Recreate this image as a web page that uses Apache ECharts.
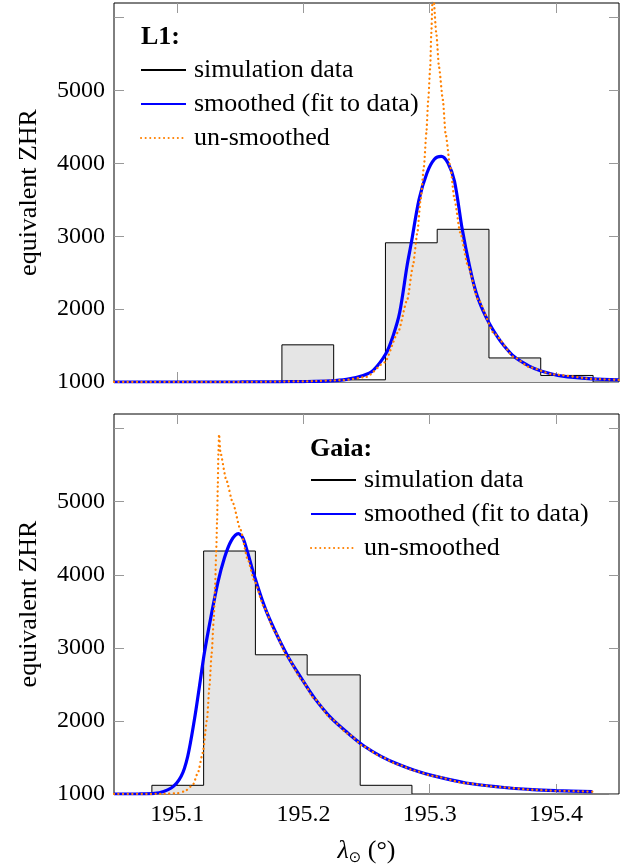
<!DOCTYPE html>
<html>
<head>
<meta charset="utf-8">
<title>L1 / Gaia ZHR</title>
<style>
html, body { margin: 0; padding: 0; background: #fff; }
#main { width: 627px; height: 867px; }
</style>
</head>
<body>
<div id="main"></div>
<script src="https://cdn.jsdelivr.net/npm/echarts@6.0.0/dist/echarts.min.js"></script>
<script>
// tick positions / labels
var xTicks = [195.1, 195.2, 195.3, 195.4];
var yTicks = [1000, 2000, 3000, 4000, 5000, 6000];
var yLabels = [1000, 2000, 3000, 4000, 5000];
var legendNames = ['simulation data', 'smoothed (fit to data)', 'un-smoothed'];

// L1: histogram (bin edges + heights)
var l1Edges = [195.183, 195.224, 195.265, 195.306, 195.347, 195.388, 195.4295];
var l1Hist = [1510, 1030, 2910, 3095, 1330, 1090];

// L1: smoothed profile [lambda, ZHR]
var l1Smooth = [
  [195.05, 1000], [195.10, 1000], [195.15, 1001], [195.18, 1003], [195.20, 1006],
  [195.221, 1015], [195.2342, 1036], [195.2474, 1090], [195.2553, 1160],
  [195.2653, 1387], [195.2711, 1636], [195.2763, 1955], [195.2821, 2592],
  [195.2855, 2911], [195.2916, 3503], [195.2979, 3868], [195.3039, 4059],
  [195.3092, 4096], [195.3145, 4005], [195.3197, 3754], [195.3258, 3098],
  [195.3316, 2592], [195.3368, 2228], [195.3421, 1985], [195.3474, 1800],
  [195.3526, 1650], [195.3579, 1520], [195.3671, 1345], [195.3789, 1218],
  [195.3882, 1152], [195.4053, 1080], [195.4289, 1043], [195.45, 1030]
];

// L1: un-smoothed profile
var l1Raw = [
  [195.05, 1000], [195.15, 1001], [195.20, 1008], [195.2316, 1025], [195.25, 1070],
  [195.2645, 1270], [195.275, 1682], [195.2824, 2137], [195.2868, 2597],
  [195.2903, 3052], [195.2929, 3508], [195.2955, 3959], [195.2974, 4415],
  [195.2989, 4870], [195.3005, 5326], [195.3013, 5781], [195.3026, 6400],
  [195.3053, 5781], [195.3074, 5326], [195.3105, 4870], [195.3126, 4415],
  [195.3163, 3959], [195.3197, 3508], [195.3242, 3052], [195.3303, 2597],
  [195.3382, 2137], [195.3513, 1660], [195.3671, 1340], [195.3789, 1205],
  [195.3974, 1105], [195.4316, 1040], [195.45, 1028]
];

// Gaia: histogram
var gaiaEdges = [195.080, 195.121, 195.162, 195.203, 195.245, 195.286];
var gaiaHist = [1119, 4325, 2905, 2630, 1119];

// Gaia: smoothed profile
var gaiaSmooth = [
  [195.05, 1000], [195.07, 1001], [195.0821, 1008], [195.0953, 1082],
  [195.1032, 1242], [195.1084, 1516], [195.1137, 2018], [195.1177, 2475],
  [195.1216, 2932], [195.1269, 3434], [195.1322, 3890], [195.1375, 4233],
  [195.1427, 4461], [195.1485, 4562], [195.152, 4507], [195.1559, 4301],
  [195.1612, 3982], [195.1691, 3571], [195.177, 3251], [195.1876, 2886],
  [195.1982, 2589], [195.2087, 2315], [195.2219, 2041], [195.2351, 1836],
  [195.2483, 1653], [195.2615, 1516], [195.2747, 1410], [195.2879, 1325],
  [195.3024, 1251], [195.3288, 1151], [195.3551, 1096], [195.3814, 1059],
  [195.40, 1045], [195.4289, 1032]
];

// Gaia: un-smoothed profile
var gaiaRaw = [
  [195.05, 1000], [195.09, 1002], [195.1005, 1012], [195.1058, 1035],
  [195.1124, 1120], [195.1164, 1288], [195.1203, 1562], [195.1237, 2018],
  [195.1256, 2475], [195.1274, 2932], [195.129, 3388], [195.1301, 3845],
  [195.1309, 4301], [195.1317, 4758], [195.1322, 5215], [195.1327, 5671],
  [195.1332, 5922], [195.1343, 5671], [195.1388, 5306], [195.1441, 4986],
  [195.1501, 4621], [195.1559, 4210], [195.1612, 3913], [195.1691, 3548],
  [195.177, 3235], [195.1876, 2870], [195.1982, 2575], [195.2087, 2305],
  [195.2219, 2032], [195.2351, 1828], [195.2483, 1646], [195.2615, 1510],
  [195.2747, 1405], [195.2879, 1320], [195.3024, 1247], [195.3288, 1148],
  [195.3551, 1094], [195.3814, 1058], [195.40, 1044], [195.4289, 1031]
];

var X_MIN = 195.05, X_MAX = 195.45, Y_MIN = 1000, Y_MAX = 6200;
var SERIF = 'Liberation Serif';

// step outline for histogram: up from baseline, bins, back down
function histData(edges, vals) {
  var d = [[edges[0], Y_MIN]];
  for (var i = 0; i < vals.length; i++) d.push([edges[i], vals[i]]);
  d.push([edges[edges.length - 1], Y_MIN]);
  return d;
}

function xAx(grid, pos, labels) {
  var a = {
    type: 'value', gridIndex: grid, position: pos, min: X_MIN, max: X_MAX,
    axisLine: { show: false },
    splitLine: { show: false },
    axisTick: { inside: true, length: 10, customValues: xTicks, lineStyle: { color: '#999', width: 1 } },
    axisLabel: { show: false }
  };
  if (labels) {
    a.axisLabel = {
      show: true, customValues: xTicks, margin: 9, color: '#000',
      fontFamily: SERIF, fontSize: 24,
      formatter: function (v) { return v.toFixed(1); }
    };
    a.name = '{l|λ}{s|⊙} (°)';
    a.nameLocation = 'middle';
    a.nameGap = 42;
    a.nameTextStyle = {
      color: '#000', fontFamily: SERIF, fontSize: 26,
      rich: {
        l: { fontFamily: SERIF, fontStyle: 'italic', fontSize: 26, color: '#000' },
        s: { fontFamily: 'DejaVu Sans', fontSize: 15, color: '#000', padding: [14, 0, 0, 0], height: 16 }
      }
    };
  }
  return a;
}

function yAx(grid, pos, labels) {
  var a = {
    type: 'value', gridIndex: grid, position: pos, min: Y_MIN, max: Y_MAX,
    axisLine: { show: false },
    splitLine: { show: false },
    axisTick: { inside: true, length: 10, customValues: yTicks, lineStyle: { color: '#999', width: 1 } },
    axisLabel: { show: false }
  };
  if (labels) {
    a.axisLabel = {
      show: true, customValues: yLabels, margin: 9, color: '#000',
      fontFamily: SERIF, fontSize: 24,
      formatter: function (v) { return String(v); }
    };
    a.name = 'equivalent ZHR';
    a.nameLocation = 'middle';
    a.nameGap = 72;
    a.nameTextStyle = { color: '#000', fontFamily: SERIF, fontSize: 26 };
  }
  return a;
}

function panel(idx, edges, hist, smooth, raw) {
  return [
    {
      type: 'line', name: legendNames[0], xAxisIndex: idx * 2, yAxisIndex: idx * 2,
      data: histData(edges, hist), step: 'end', symbol: 'none',
      lineStyle: { color: '#000', width: 1 }, itemStyle: { color: '#000' },
      areaStyle: { color: '#e5e5e5', opacity: 1, origin: 'start' }
    },
    {
      type: 'line', name: legendNames[1], xAxisIndex: idx * 2, yAxisIndex: idx * 2,
      data: smooth, smooth: 0.3, symbol: 'none',
      lineStyle: { color: '#0000ff', width: 3.2 }, itemStyle: { color: '#0000ff' }
    },
    {
      type: 'line', name: legendNames[2], xAxisIndex: idx * 2, yAxisIndex: idx * 2,
      data: raw, smooth: 0.2, smoothMonotone: 'x', symbol: 'none',
      lineStyle: { color: '#ff8000', width: 2.3, type: [0.1, 4.5], cap: 'round' }, itemStyle: { color: '#ff8000' }
    }
  ];
}

function legendAt(left, top) {
  return {
    orient: 'vertical', left: left, top: top, padding: 0,
    data: legendNames, itemWidth: 45, itemHeight: 14, itemGap: 8,
    selectedMode: false,
    itemStyle: { opacity: 0 },
    textStyle: { fontFamily: SERIF, fontSize: 26, color: '#000', lineHeight: 25, padding: [0, 0, 0, 3] }
  };
}

var myChart = echarts.init(document.getElementById('main'));
myChart.setOption({
  animation: false,
  backgroundColor: '#fff',
  textStyle: { fontFamily: SERIF },
  title: [
    { text: 'L1:', left: 141, top: 24, padding: 0, textStyle: { fontFamily: SERIF, fontSize: 26, fontWeight: 'bold', color: '#000' } },
    { text: 'Gaia:', left: 310, top: 436, padding: 0, textStyle: { fontFamily: SERIF, fontSize: 26, fontWeight: 'bold', color: '#000' } }
  ],
  legend: [legendAt(140, 57), legendAt(310, 467)],
  grid: [
    { left: 114, top: 3, width: 505, height: 379, show: true, borderColor: '#000', borderWidth: 1, backgroundColor: 'transparent' },
    { left: 114, top: 414, width: 505, height: 380, show: true, borderColor: '#000', borderWidth: 1, backgroundColor: 'transparent' }
  ],
  xAxis: [xAx(0, 'bottom', false), xAx(0, 'top', false), xAx(1, 'bottom', true), xAx(1, 'top', false)],
  yAxis: [yAx(0, 'left', true), yAx(0, 'right', false), yAx(1, 'left', true), yAx(1, 'right', false)],
  series: panel(0, l1Edges, l1Hist, l1Smooth, l1Raw).concat(panel(1, gaiaEdges, gaiaHist, gaiaSmooth, gaiaRaw))
});
</script>
</body>
</html>
